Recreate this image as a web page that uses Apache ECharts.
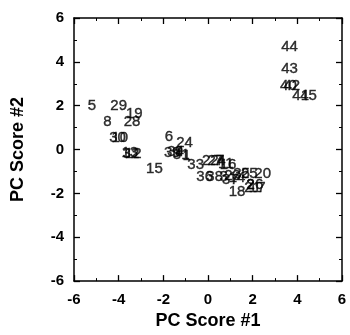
<!DOCTYPE html>
<html>
<head>
<meta charset="utf-8">
<script src="https://cdn.jsdelivr.net/npm/echarts@6/dist/echarts.min.js"></script>
<style>html,body{margin:0;padding:0;background:#fff;}#c{width:350px;height:335px;}</style>
</head>
<body>
<div id="c"></div>
<script>
var ids = [1,2,3,4,5,6,7,8,9,10,11,12,13,14,15,16,17,18,19,20,21,22,23,24,25,26,27,28,29,30,31,32,33,34,35,36,37,38,39,40,41,42,43,44,45];
var pc1 = [-0.95,1.9,0.7,0.6,-5.2,-1.75,0.45,-4.5,-1.3,-3.95,0.8,-3.35,-3.5,1.3,-2.4,0.9,2.2,1.3,-3.3,2.45,2.0,0.1,1.1,-1.05,1.85,2.1,0.35,-3.4,-4.0,-4.05,-1.2,-3.45,-0.55,-1.45,1.5,-0.15,1.0,0.3,-1.6,3.6,4.15,3.75,3.65,3.65,4.5];
var pc2 = [-0.3,-1.6,-1.25,-0.5,2.0,0.6,-0.5,1.25,-0.1,0.55,-0.65,-0.2,-0.15,-1.3,-0.9,-0.7,-1.75,-1.95,1.65,-1.1,-1.75,-0.5,-1.2,0.3,-1.1,-1.6,-0.5,1.25,2.0,0.55,-0.25,-0.2,-0.7,-0.1,-1.1,-1.25,-1.4,-1.25,-0.15,2.9,2.45,2.9,3.7,4.7,2.45];
var xTicks = [-6,-4,-2,0,2,4,6];
var yTicks = [-6,-4,-2,0,2,4,6];

var pts = ids.map(function(id,i){ return [pc1[i], pc2[i], String(id)]; });
var font = 'Liberation Sans, Arial, sans-serif';
function ax(pos, showLabels, name){
  return {
    type:'value', min:-6, max:6, interval:2, position:pos,
    name: name || '', nameLocation:'middle',
    nameTextStyle:{fontFamily:font,fontSize:18,fontWeight:'bold',color:'#000'},
    axisLine:{show:true,onZero:false,lineStyle:{color:'#000',width:1.5}},
    axisTick:{show:true,inside:true,length:6,lineStyle:{color:'#000',width:1.3}},
    minorTick:{show:true,splitNumber:2,length:3,lineStyle:{color:'#000',width:1}},
    axisLabel:{show:showLabels,fontFamily:font,fontSize:15,fontWeight:'bold',color:'#000',margin:11},
    splitLine:{show:false}
  };
}
var xb = ax('bottom', true, 'PC Score #1'); xb.nameGap = 27;
var xt = ax('top', false);
var yl = ax('left', true, 'PC Score #2'); yl.nameGap = 47; yl.axisLabel.margin = 10;
var yr = ax('right', false);
var chart = echarts.init(document.getElementById('c'), null, {renderer:'canvas'});
chart.setOption({
  animation:false,
  grid:{left:74,right:8,top:18,bottom:43,containLabel:false},
  xAxis:[xb, xt],
  yAxis:[yl, yr],
  series:[{
    type:'scatter', xAxisIndex:0, yAxisIndex:0,
    data: pts, symbolSize:4,
    itemStyle:{color:'rgba(0,0,0,0)'},
    label:{show:true, position:'inside', formatter:function(p){return p.value[2];},
      fontFamily:font, fontSize:15, color:'#000', textBorderColor:'#000', textBorderWidth:0.4}
  }]
});
</script>
</body>
</html>
